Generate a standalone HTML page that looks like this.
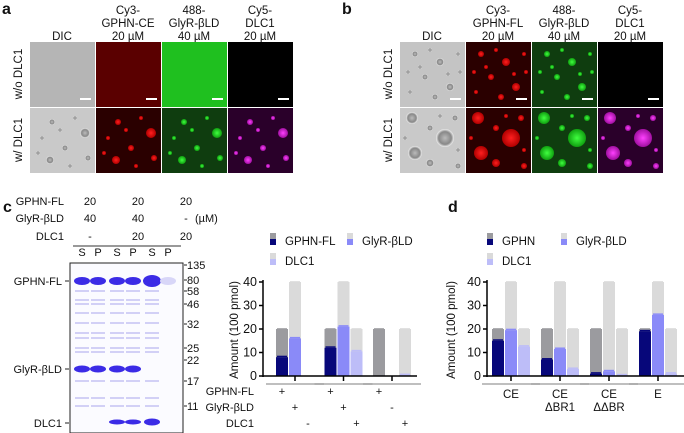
<!DOCTYPE html>
<html><head><meta charset="utf-8"><style>
body{margin:0;background:#fff;}
svg{display:block;font-family:"Liberation Sans",Arial,sans-serif;}
</style></head><body>
<svg id="fig" width="684" height="433" viewBox="0 0 684 433" xmlns="http://www.w3.org/2000/svg">
<defs>
<radialGradient id="gR"><stop offset="0" stop-color="#ff2020"/><stop offset="1" stop-color="#b00000"/></radialGradient>
<radialGradient id="gG"><stop offset="0" stop-color="#40ff40"/><stop offset="1" stop-color="#10a010"/></radialGradient>
<radialGradient id="gM"><stop offset="0" stop-color="#ff40ff"/><stop offset="1" stop-color="#a010a0"/></radialGradient>
<radialGradient id="gD"><stop offset="0" stop-color="#bbb"/><stop offset="0.7" stop-color="#888"/><stop offset="1" stop-color="#eee"/></radialGradient>
</defs>
<g font-size="11" fill="#111">
<text x="2" y="14" font-size="16" font-weight="bold">a</text>
<text x="342" y="14" font-size="16" font-weight="bold">b</text>
<text x="3" y="212" font-size="16" font-weight="bold">c</text>
<text x="448" y="212" font-size="16" font-weight="bold">d</text>
</g>
<g id="micro" font-size="11.5" text-anchor="middle" fill="#111"></g>
<g id="gel" font-size="11" fill="#111"></g>
<g id="chartc" font-size="11" fill="#111"></g>
<g id="chartd" font-size="11" fill="#111"></g>
</svg>
<script>
// ---- chart c data ----
const cGroups = ['g1','g2','g3'];
const cGphnTotal = [20,20,20];
const cGphnBound = [8,12,0];
const cGlyTotal = [40,40,0];
const cGlyBound = [16,21,0];
const cDlcTotal = [0,20,20];
const cDlcBound = [0,10.5,0.4];
const cRowGphn = ['+','+','+'];
const cRowGly = ['+','+','-'];
const cRowDlc = ['-','+','+'];
// ---- chart d data ----
const dGroups = ['CE','CE\nΔBR1','CE\nΔΔBR','E'];
const dGphnTotal = [20,20,20,20];
const dGphnBound = [15,7,1,19];
const dGlyTotal = [40,40,40,40];
const dGlyBound = [19.5,11.5,2,26];
const dDlcTotal = [20,20,20,20];
const dDlcBound = [12.5,3,0.3,1];
const yTicks = [0,10,20,30,40];

const NS='http://www.w3.org/2000/svg';
function mk(parent,tag,attrs,text){const e=document.createElementNS(NS,tag);for(const k in attrs)e.setAttribute(k,attrs[k]);if(text!==undefined)e.textContent=text;parent.appendChild(e);return e;}

// ---- microscopy tiles ----
const micro=document.getElementById('micro');
function tiles(x0,heads,aRow1,blobs){
  const xs=[x0,x0+66,x0+132,x0+198];
  heads.forEach((h,i)=>{h.forEach((ln,j)=>{const t=mk(micro,'text',{x:xs[i]+32,y:14+j*13+(3-h.length)*13});t.textContent=ln;
  
  });});
  const bg2=['#c9c9c9','#2a0000','#0f3d0f','#2a002a'];
  const fills=['url(#gD)','url(#gR)','url(#gG)','url(#gM)'];
  for(let r=0;r<2;r++)for(let i=0;i<4;i++){
    const y=42+r*66;
    const rc=mk(micro,'rect',{x:xs[i],y:y,width:65,height:65,fill:r==0?aRow1[i]:bg2[i]});
    
    
    const bl=blobs[r];
    if(bl && !(r==0&&i==3)){
      bl.pts.forEach(p=>{mk(micro,'circle',{cx:xs[i]+p[0],cy:y+p[1],r:p[2],fill:fills[i]});});
    }
    if(r==0) mk(micro,'rect',{x:xs[i]+50,y:y+56,width:11,height:2,fill:'#fff'});
  }
  const t1=mk(micro,'text',{transform:`translate(${x0-8},74) rotate(-90)`},'w/o DLC1');
  
  const t2=mk(micro,'text',{transform:`translate(${x0-8},140) rotate(-90)`},'w/ DLC1');
  
}
const ptsA=[[22,14,3],[55,25,5],[12,30,2],[35,40,3],[20,52,4],[45,10,2],[58,50,3],[30,22,2],[8,45,2],[40,58,2]];
const ptsB1=[[15,12,3],[40,20,4],[25,35,3],[50,45,4],[10,50,2],[35,55,3],[58,12,2],[20,25,2],[8,30,2],[30,8,2],[48,32,2],[60,30,2]];
const ptsB2=[[12,10,6],[45,30,9],[15,45,7],[55,10,3],[30,55,4],[58,58,3],[30,20,3],[5,30,2],[40,8,2],[58,42,2]];
tiles(30,[['DIC'],['Cy3-','GPHN-CE','20 µM'],['488-','GlyR-βLD','40 µM'],['Cy5-','DLC1','20 µM']],
 ['#b5b5b5','#5a0000','#1fc01f','#000'],[null,{pts:ptsA}]);
tiles(400,[['DIC'],['Cy3-','GPHN-FL','20 µM'],['488-','GlyR-βLD','40 µM'],['Cy5-','DLC1','20 µM']],
 ['#c4c4c4','#2a0000','#0f3d0f','#000'],[{pts:ptsB1},{pts:ptsB2}]);

// ---- gel ----
const gel=document.getElementById('gel');
const laneX=[82,98,117,133,152,168];
const laneLab=['S','P','S','P','S','P'];
[['GPHN-FL',205,['20','20','20']],['GlyR-βLD',222,['40','40','-']],['DLC1',240,['-','20','20']]].forEach(r=>{
  const t=mk(gel,'text',{x:64,y:r[1],'text-anchor':'end'},r[0]);
  
  r[2].forEach((v,i)=>mk(gel,'text',{x:90+i*48,y:r[1],'text-anchor':'middle'},v));
});
mk(gel,'text',{x:195,y:222},'(µM)');
mk(gel,'line',{x1:73,y1:246,x2:181,y2:246,stroke:'#333','stroke-width':1});
laneLab.forEach((l,i)=>mk(gel,'text',{x:laneX[i],y:256,'text-anchor':'middle'},l));
const gb=mk(gel,'rect',{x:70,y:263,width:113,height:170,fill:'#fbfbff',stroke:'#222','stroke-width':1});

const faint=[291,300,304,313,323,333,338,348,352,381,398,406];
laneX.forEach((x,i)=>{
  if(i<5){faint.forEach(y=>mk(gel,'rect',{x:x-7,y:y-1,width:14,height:2,fill:'#b8b4f0',opacity:0.6}));}
  mk(gel,'ellipse',{cx:x,cy:281,rx:i==4?9:8,ry:i==4?6:4,fill:i==5?'#d8d6f8':'#3b2be6'});
  if(i<4)mk(gel,'ellipse',{cx:x,cy:369,rx:8,ry:3.5,fill:'#3b2be6'});
  if(i>=2&&i<5)mk(gel,'ellipse',{cx:x,cy:422,rx:8,ry:i==4?3.5:2.5,fill:'#3b2be6'});
});
[['GPHN-FL',281],['GlyR-βLD',369],['DLC1',423]].forEach(r=>{
  mk(gel,'text',{x:62,y:r[1]+4,'text-anchor':'end'},r[0]);
  mk(gel,'line',{x1:65,y1:r[1],x2:69,y2:r[1],stroke:'#222'});
});
[['135',265],['80',280],['58',291],['46',304],['32',324],['25',348],['22',360],['17',381],['11',406]].forEach(m=>{
  mk(gel,'line',{x1:184,y1:m[1],x2:187,y2:m[1],stroke:'#222'});
  mk(gel,'text',{x:187,y:m[1]+4},m[0]);
});

// ---- bar charts ----
const COL={gT:'#9b9b9f',lT:'#dadada',gB:'#07077a',yB:'#8a8af8',dB:'#bdbdf8'};
function chart(gid,axX,axEnd,g0,gStep,gphnT,gphnB,glyT,glyB,dlcT,dlcB,ylabX,legend){
  const g=document.getElementById(gid);
  const y0=376,k=(376-282)/40;
  const Y=v=>y0-v*k;
  const slot=(gi,s)=>g0+gi*gStep+s*13;
  const bw=12;
  function bar(x,tot,bound,ct,cb,nm){
    if(tot>0){const r=mk(g,'rect',{x:x,y:Y(tot),width:bw,height:tot*k,fill:ct});
      
      mk(g,'rect',{x:x+1,y:Y(tot)-1,width:bw-2,height:1.5,fill:ct,opacity:0.8});}
    if(bound>0){const r=mk(g,'rect',{x:x,y:Y(bound),width:bw,height:bound*k,fill:cb});
      
      mk(g,'rect',{x:x+1,y:Y(bound)-1.5,width:bw-2,height:1.5,fill:cb});}
  }
  gphnT.forEach((v,i)=>bar(slot(i,0),v,gphnB[i],COL.gT,COL.gB,'bar-gphn'));
  glyT.forEach((v,i)=>bar(slot(i,1),v,glyB[i],COL.lT,COL.yB,'bar-glyr'));
  dlcT.forEach((v,i)=>bar(slot(i,2),v,dlcB[i],COL.lT,COL.dB,'bar-dlc1'));
  mk(g,'line',{x1:axX,y1:Y(40)-2,x2:axX,y2:y0+1,stroke:'#000','stroke-width':1.5});
  mk(g,'line',{x1:axX,y1:y0,x2:axEnd,y2:y0,stroke:'#000','stroke-width':1.5});
  yTicks.forEach(t=>{mk(g,'line',{x1:axX-4,y1:Y(t),x2:axX,y2:Y(t),stroke:'#000','stroke-width':1.5});
    const tl=mk(g,'text',{x:axX-6,y:Y(t)+4,'text-anchor':'end','font-size':12.5},String(t));
    });
  gphnT.forEach((v,i)=>{const cx=slot(i,1)+bw/2;
    mk(g,'line',{x1:cx,y1:y0,x2:cx,y2:y0+5,stroke:'#000','stroke-width':1.5});
    mk(g,'line',{x1:slot(i,0)-10,y1:384,x2:slot(i,2)+bw+10,y2:384,stroke:'#555','stroke-width':0.8});});
  const yt=mk(g,'text',{transform:`translate(${ylabX},330) rotate(-90)`,'text-anchor':'middle','font-size':11.5},'Amount (100 pmol)');
  
  legend.forEach(l=>{
    mk(g,'rect',{x:l[0],y:l[2]-9,width:6,height:6,fill:l[3]});
    mk(g,'rect',{x:l[0],y:l[2]-3,width:6,height:6,fill:l[4]});
    const t=mk(g,'text',{x:l[0]+15,y:l[2]+3,'font-size':11.5},l[1]);
    
  });
  return {slot,bw,g};
}
const c=chart('chartc',263,417,276,48.5,cGphnTotal,cGphnBound,cGlyTotal,cGlyBound,cDlcTotal,cDlcBound,238,
  [[270,'GPHN-FL',242,COL.gT,COL.gB],[347,'GlyR-βLD',242,COL.lT,COL.yB],[270,'DLC1',262,COL.lT,COL.dB]]);
[['GPHN-FL',395,cRowGphn,0],['GlyR-βLD',411,cRowGly,1],['DLC1',427,cRowDlc,2]].forEach(r=>{
  const t=mk(c.g,'text',{x:254,y:r[1],'text-anchor':'end'},r[0]);
  
  r[2].forEach((s,i)=>mk(c.g,'text',{x:c.slot(i,r[3])+6,y:r[1],'text-anchor':'middle'},s));
});
const d=chart('chartd',487,684,492,49,dGphnTotal,dGphnBound,dGlyTotal,dGlyBound,dDlcTotal,dDlcBound,455,
  [[487,'GPHN',242,COL.gT,COL.gB],[561,'GlyR-βLD',242,COL.lT,COL.yB],[487,'DLC1',262,COL.lT,COL.dB]]);
dGroups.forEach((n,i)=>{n.split('\n').forEach((ln,j)=>{
  const t=mk(d.g,'text',{x:d.slot(i,1)+6,y:398+j*13,'text-anchor':'middle','font-size':11.5},ln);
  });});
</script>
</body></html>
